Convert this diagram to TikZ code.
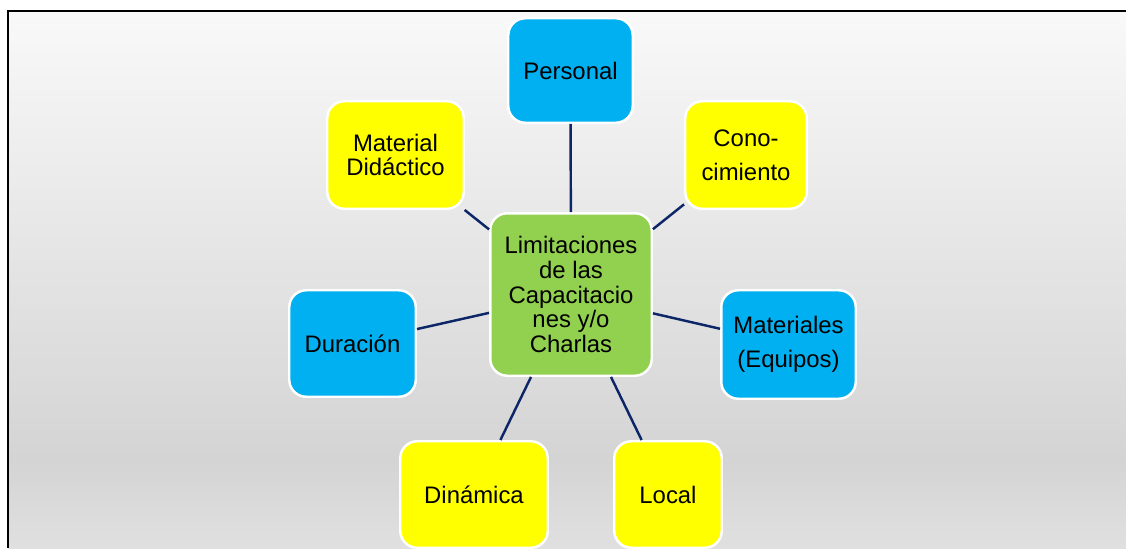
\documentclass[tikz,border=0pt]{standalone}
\usepackage{fontspec}
\setmainfont{Liberation Sans}
\usepackage{tikz}

\definecolor{boxblue}{HTML}{00B0F0}
\definecolor{boxyellow}{HTML}{FFFF00}
\definecolor{boxgreen}{HTML}{92D050}
\definecolor{linknavy}{RGB}{12,38,104}
\definecolor{bgtop}{HTML}{F9F9F9}
\definecolor{bgmid}{HTML}{D4D4D4}
\definecolor{bgbot}{HTML}{E0E0E0}

\begin{document}
\begin{tikzpicture}[x=0.02cm, y=-0.02cm,
  box/.style={draw=white, line width=1.4pt, rounded corners=0.34cm,
    inner sep=0pt, align=center,
    font=\fontsize{13.6}{14.2}\selectfont},
  widebox/.style={box, font=\fontsize{13.6}{19.3}\selectfont},
  link/.style={draw=linknavy, line width=1.4pt}]

  % Page and background
  \useasboundingbox (0,0) rectangle (1126,548);
  \fill[white] (0,0) rectangle (1126,548);
  \shade[top color=bgtop, bottom color=bgmid] (8,11) rectangle (1126,460);
  \shade[top color=bgmid, bottom color=bgbot] (8,460) rectangle (1126,548);
  \draw[line width=1.4pt] (8,548) -- (8,11) -- (1126,11);

  % Centre box
  \node[box, fill=boxgreen, minimum width=3.23cm, minimum height=3.25cm]
    (limit) at (571,294.5) {Limitaciones\\de las\\Capacitacio\\nes y/o\\Charlas};

  % Outer boxes
  \node[box, fill=boxblue, minimum width=2.49cm, minimum height=2.09cm]
    (personal) at (570.5,70.5) {Personal};
  \node[widebox, fill=boxyellow, minimum width=2.43cm, minimum height=2.15cm]
    (conoc) at (746,155) {Cono-\\cimiento};
  \node[box, fill=boxyellow, minimum width=2.73cm, minimum height=2.15cm,
    font=\fontsize{13.6}{13.3}\selectfont]
    (didact) at (395.5,155) {Material\\Didáctico};
  \node[box, fill=boxblue, minimum width=2.53cm, minimum height=2.13cm]
    (durac) at (352.5,343.5) {Duración};
  \node[widebox, fill=boxblue, minimum width=2.69cm, minimum height=2.17cm]
    (equipos) at (788.5,344.5) {Materiales\\(Equipos)};
  \node[box, fill=boxyellow, minimum width=2.95cm, minimum height=2.13cm]
    (dinam) at (474,494.5) {Dinámica};
  \node[box, fill=boxyellow, minimum width=2.15cm, minimum height=2.13cm]
    (local) at (668,494.5) {Local};

  % Connectors
  \foreach \n in {personal,conoc,didact,durac,equipos,dinam,local}
    \draw[link] (limit) -- (\n);
\end{tikzpicture}
\end{document}
